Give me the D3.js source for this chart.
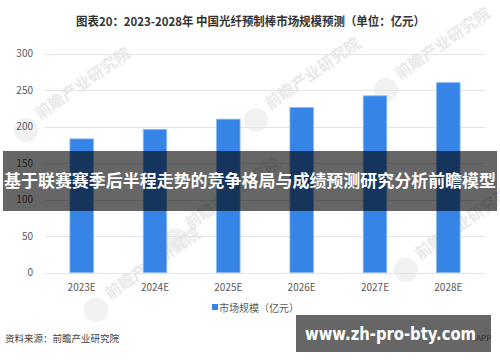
<!DOCTYPE html>
<html>
<head>
<meta charset="utf-8">
<script src="https://cdn.jsdelivr.net/npm/d3@7"></script>
<style>
  html, body { margin: 0; padding: 0; background: #fff; }
  svg { display: block; font-family: "Noto Sans CJK SC", "Noto Sans", sans-serif; }
</style>
</head>
<body>
<div id="chart"></div>
<script>
// ── Data ───────────────────────────────────────────────────────────────
const years = ["2023E", "2024E", "2025E", "2026E", "2027E", "2028E"];
const marketSize = [183, 196, 210, 226, 242, 260];
const yTicks = [0, 50, 100, 150, 200, 250, 300];

const W = 500, H = 362;
const svg = d3.select("#chart").append("svg").attr("width", W).attr("height", H);

svg.append("rect").attr("width", W).attr("height", H).attr("fill", "#fff");

// ── Scales ─────────────────────────────────────────────────────────────
const x = d3.scaleBand().domain(years).range([45, 485]).paddingInner(0.68).paddingOuter(0.34);
const y = d3.scaleLinear().domain([0, 300]).range([272.5, 53.5]);

// ── Title ──────────────────────────────────────────────────────────────
svg.append("text")
  .attr("x", 76).attr("y", 26)
  .attr("textLength", 349).attr("lengthAdjust", "spacingAndGlyphs")
  .attr("font-size", 12).attr("font-weight", 700).attr("fill", "#333")
  .text("图表20：2023-2028年 中国光纤预制棒市场规模预测（单位：亿元）");

// ── Watermarks ─────────────────────────────────────────────────────────
const wm = svg.append("g").attr("fill", "#e9e9e9").attr("font-weight", 700);
[[40, 120], [190, 230], [270, 110], [400, 80], [420, 260], [110, 300]].forEach(([wx, wy]) => {
  wm.append("circle").attr("cx", wx - 14).attr("cy", wy + 10).attr("r", 12).attr("fill", "#f1f1f1");
  wm.append("text").attr("transform", `translate(${wx},${wy}) rotate(-35)`)
    .attr("font-size", 16).text("前瞻产业研究院");
});

// ── Grid + axis ────────────────────────────────────────────────────────
svg.append("g").selectAll("line").data(yTicks).join("line")
  .attr("x1", 45).attr("x2", 485)
  .attr("y1", d => Math.round(y(d)) + 0.5).attr("y2", d => Math.round(y(d)) + 0.5)
  .attr("stroke", "#e3e3e3").attr("stroke-width", 1);

svg.append("g").selectAll("text").data(yTicks).join("text")
  .attr("x", 33).attr("y", d => y(d)).attr("dy", "0.35em")
  .attr("text-anchor", "end").attr("font-size", 10).attr("fill", "#595959")
  .text(d => d);

svg.append("g").selectAll("text").data(years).join("text")
  .attr("x", d => x(d) + x.bandwidth() / 2).attr("y", 291)
  .attr("text-anchor", "middle").attr("font-size", 10).attr("fill", "#595959")
  .text(d => d);

// ── Bars ───────────────────────────────────────────────────────────────
svg.append("g").selectAll("rect").data(years).join("rect")
  .attr("x", d => x(d)).attr("width", x.bandwidth())
  .attr("y", (d, i) => y(marketSize[i]))
  .attr("height", (d, i) => y(0) - y(marketSize[i]))
  .attr("fill", "#3584e6").attr("stroke", "#86b6f0").attr("stroke-width", 0.8);

// ── Legend ─────────────────────────────────────────────────────────────
svg.append("rect").attr("x", 212).attr("y", 304).attr("width", 6).attr("height", 6).attr("fill", "#3584e6");
svg.append("text").attr("x", 219).attr("y", 311.5)
  .attr("font-size", 10).attr("fill", "#595959").text("市场规模（亿元）");

// ── Source ─────────────────────────────────────────────────────────────
svg.append("text").attr("x", 5).attr("y", 342)
  .attr("font-size", 9.5).attr("fill", "#444").text("资料来源：前瞻产业研究院");
svg.append("text").attr("x", 474).attr("y", 341)
  .attr("font-size", 8).attr("fill", "#777").text(".APP");

// ── Overlays ───────────────────────────────────────────────────────────
svg.append("rect").attr("x", 3).attr("y", 151).attr("width", 494).attr("height", 60)
  .attr("fill", "rgba(0,0,0,0.6)");
svg.append("text").attr("x", 250).attr("y", 181).attr("dy", "0.35em")
  .attr("text-anchor", "middle").attr("textLength", 492).attr("lengthAdjust", "spacingAndGlyphs")
  .attr("font-size", 16.5).attr("font-weight", 700).attr("fill", "#fff")
  .text("基于联赛赛季后半程走势的竞争格局与成绩预测研究分析前瞻模型");

svg.append("rect").attr("x", 296).attr("y", 315).attr("width", 195).attr("height", 37)
  .attr("fill", "rgba(0,0,0,0.6)");
svg.append("text").attr("x", 305).attr("y", 339.5)
  .attr("textLength", 171).attr("lengthAdjust", "spacingAndGlyphs")
  .attr("font-family", "'DejaVu Sans', sans-serif")
  .attr("font-size", 17).attr("font-weight", 700).attr("fill", "#fff")
  .text("www.zh-pro-bty.com");
</script>
</body>
</html>
